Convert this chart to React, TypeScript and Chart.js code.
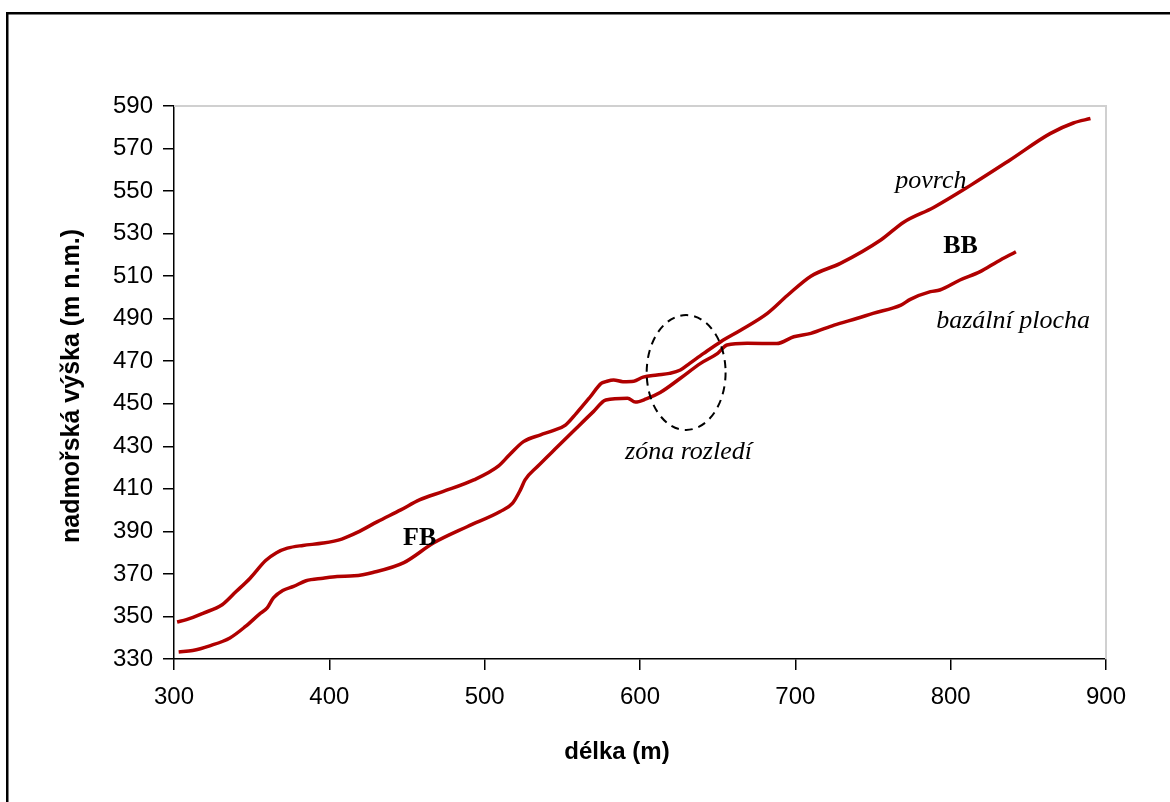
import React, { useEffect, useRef } from "react";
import { Chart, registerables } from "chart.js";

Chart.register(...registerables);

// povrch (surface)
const povrchX = [302, 308, 319, 331, 340, 349, 359, 366, 373, 383, 396, 408, 418, 431, 446, 458, 473, 493, 509, 516, 525, 536, 544, 552, 559, 568, 575, 578, 583, 589, 596, 602, 611, 619, 626, 632, 641, 652, 665, 682, 695, 710, 729, 755, 770, 789, 813, 838, 864, 879, 890];
const povrchY = [347.4, 348.5, 351.6, 355.5, 361.7, 368, 376.3, 380, 382.1, 383.4, 384.5, 386.4, 389.5, 394.6, 400.1, 404.8, 408.7, 414.2, 420.8, 426, 432.2, 435.4, 437.4, 440, 445.5, 453.3, 459.6, 460.4, 461.2, 460.4, 460.6, 462.5, 463.5, 464.3, 465.9, 469, 473.7, 479.2, 484.7, 492.5, 501, 510, 516, 527, 535.5, 542.3, 552.8, 564.5, 577, 582, 584.1];

// bazální plocha (basal surface)
const bazX = [303, 312, 323, 336, 346, 355, 360, 364, 370, 377, 385, 396, 405, 416, 428, 448, 467, 489, 510, 518, 523, 526, 534, 547, 559, 570, 578, 592, 597, 604, 613, 626, 639, 650, 656, 669, 688, 699, 710, 725, 740, 750, 768, 774, 787, 793, 806, 819, 830, 842];
const bazY = [333.3, 334, 336.2, 339.9, 345.3, 351.1, 354, 358.7, 362.2, 364.1, 366.8, 368, 368.8, 369.1, 370.7, 375.3, 384.5, 392.3, 399.3, 403.3, 409.5, 414.2, 420.5, 429.9, 438.5, 446.3, 451.8, 452.6, 450.8, 452.3, 455.3, 462, 469, 473.7, 477.6, 478.4, 478.3, 481.5, 483.1, 487, 490.2, 492.5, 496.4, 499.1, 502.7, 503.5, 508.2, 512.1, 516.8, 521.5];

const xMin = 300, xMax = 900, xStep = 100;
const yMin = 330, yMax = 590, yStep = 20;

const xTitle = "délka (m)";
const yTitle = "nadmořská výška (m n.m.)";

const LINE_COLOR = "#b00000";

const annotPlugin = {
  id: "annot",
  beforeDatasetsDraw(chart: any) {
    const { ctx, chartArea: a } = chart;
    ctx.save();
    ctx.strokeStyle = "#d0d0d0";
    ctx.lineWidth = 2;
    ctx.beginPath();
    ctx.moveTo(a.left, a.top);
    ctx.lineTo(a.right, a.top);
    ctx.lineTo(a.right, a.bottom);
    ctx.stroke();
    ctx.restore();
  },
  afterDraw(chart: any) {
    const { ctx, scales } = chart;
    const x = scales.x, y = scales.y;
    ctx.save();
    // outer frame
    ctx.fillStyle = "#000";
    ctx.fillRect(6, 12, 1170, 2.5);
    ctx.fillRect(6, 12, 2.5, 802);

    // dashed ellipse
    const cx = x.getPixelForValue(629.7), cy = y.getPixelForValue(464.7);
    const rx = x.getPixelForValue(629.7 + 25.4) - cx;
    const ry = cy - y.getPixelForValue(464.7 + 27);
    ctx.strokeStyle = "#000";
    ctx.lineWidth = 2;
    ctx.setLineDash([8, 6]);
    ctx.beginPath();
    ctx.ellipse(cx, cy, rx, ry, 0, 0, Math.PI * 2);
    ctx.stroke();
    ctx.setLineDash([]);

    ctx.fillStyle = "#000";
    ctx.textBaseline = "alphabetic";
    ctx.textAlign = "left";
    ctx.font = 'italic 26px "Liberation Serif"';
    ctx.fillText("povrch", x.getPixelForValue(764.3), y.getPixelForValue(551.4));
    ctx.fillText("bazální plocha", x.getPixelForValue(790.7), y.getPixelForValue(485.6));
    ctx.fillText("zóna rozledí", x.getPixelForValue(590.4), y.getPixelForValue(424.1));
    ctx.font = 'bold 26px "Liberation Serif"';
    ctx.fillText("BB", x.getPixelForValue(795.2), y.getPixelForValue(520.8));
    ctx.fillText("FB", x.getPixelForValue(447.5), y.getPixelForValue(383.7));

    // axis titles
    ctx.textAlign = "center";
    ctx.textBaseline = "middle";
    ctx.font = 'bold 24px "Liberation Sans"';
    ctx.fillText(xTitle, 617, 752);
    ctx.font = 'bold 25px "Liberation Sans"';
    ctx.translate(72, 386);
    ctx.rotate(-Math.PI / 2);
    ctx.fillText(yTitle, 0, 0);
    ctx.restore();
  },
};

export default function App() {
  const ref = useRef<HTMLCanvasElement | null>(null);
  useEffect(() => {
    if (!ref.current) return;
    const chart = new Chart(ref.current, {
      type: "line",
      data: {
        datasets: [
          {
            label: "povrch",
            data: povrchX.map((v, i) => ({ x: v, y: povrchY[i] })),
            borderColor: LINE_COLOR,
            borderWidth: 3.5,
            pointRadius: 0,
            cubicInterpolationMode: "monotone",
            fill: false,
          },
          {
            label: "bazální plocha",
            data: bazX.map((v, i) => ({ x: v, y: bazY[i] })),
            borderColor: LINE_COLOR,
            borderWidth: 3.5,
            pointRadius: 0,
            cubicInterpolationMode: "monotone",
            fill: false,
          },
        ],
      },
      options: {
        responsive: false,
        animation: false,
        layout: { padding: { top: 106, right: 64, left: 0, bottom: 0 } },
        plugins: { legend: { display: false }, tooltip: { enabled: false } },
        scales: {
          x: {
            type: "linear",
            min: xMin,
            max: xMax,
            afterFit: (s: any) => { s.height = 143; },
            ticks: { stepSize: xStep, color: "#000", font: { family: "Liberation Sans", size: 24 }, padding: 13, maxRotation: 0 },
            grid: { drawOnChartArea: false, tickLength: 11, color: "#000", lineWidth: 1.5 },
            border: { color: "#000", width: 1.5 },
          },
          y: {
            type: "linear",
            min: yMin,
            max: yMax,
            afterFit: (s: any) => { s.width = 174; },
            ticks: { stepSize: yStep, color: "#000", font: { family: "Liberation Sans", size: 24 }, padding: 10 },
            grid: { drawOnChartArea: false, tickLength: 11, color: "#000", lineWidth: 1.5 },
            border: { color: "#000", width: 1.5 },
          },
        },
      },
      plugins: [annotPlugin],
    });
    return () => chart.destroy();
  }, []);
  return (
    <div style={{ position: "fixed", left: 0, top: 0, width: 1170, height: 802, background: "#fff" }}>
      <canvas ref={ref} width={1170} height={802} style={{ display: "block" }} />
    </div>
  );
}
